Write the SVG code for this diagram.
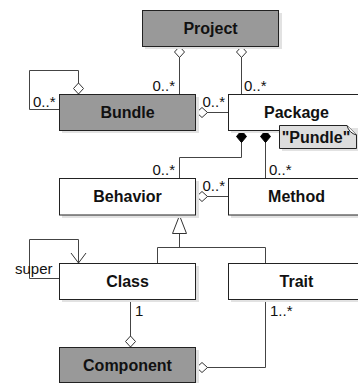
<svg xmlns="http://www.w3.org/2000/svg" width="358" height="383" viewBox="0 0 358 383">
<style>
.box{stroke:#222;stroke-width:1}
.dark{fill:#999}
.light{fill:#fff}
.shadow{fill:#e2e2e2}
.name{font-family:"Liberation Sans",Arial,sans-serif;font-weight:bold;font-size:16px;fill:#111;text-anchor:middle}
.lbl{font-family:"Liberation Sans",Arial,sans-serif;font-size:15px;fill:#111}
.end{text-anchor:end}
.conn{fill:none;stroke:#444;stroke-width:1}
</style>
<defs>
<marker id="agg" viewBox="0 -6 12 12" markerWidth="12" markerHeight="12" refX="0" refY="0" orient="auto" markerUnits="userSpaceOnUse" overflow="visible">
<path d="M0,0 L5.5,-5 L11,0 L5.5,5 Z" fill="#fff" stroke="#333" stroke-width="1"/>
</marker>
<marker id="comp" viewBox="0 -6 12 12" markerWidth="12" markerHeight="12" refX="0" refY="0" orient="auto" markerUnits="userSpaceOnUse" overflow="visible">
<path d="M0,0 L6,-5 L12,0 L6,5 Z" fill="#000" stroke="#000" stroke-width="1"/>
</marker>
<marker id="gen" viewBox="0 -8 18 16" markerWidth="18" markerHeight="16" refX="0" refY="0" orient="auto" markerUnits="userSpaceOnUse" overflow="visible">
<path d="M0,0 L18,-7 L18,7 Z" fill="#fff" stroke="#333" stroke-width="1"/>
</marker>
<marker id="open" viewBox="-12 -8 12 16" markerWidth="12" markerHeight="16" refX="0" refY="0" orient="auto" markerUnits="userSpaceOnUse" overflow="visible">
<path d="M-10,-7.5 L0,0 L-10,7.5" fill="none" stroke="#333" stroke-width="1"/>
</marker>
</defs>

<g id="connectors">
<path class="conn" d="M179.5,46.5 V94" marker-start="url(#agg)"/>
<path class="conn" d="M241.5,46.5 V94" marker-start="url(#agg)"/>
<path class="conn" d="M78.5,94 V70.5 H29.5 V109.5 H59" marker-start="url(#agg)"/>
<path class="conn" d="M196.5,112.5 H228" marker-start="url(#agg)"/>
<path class="conn" d="M241.5,130.5 V157.5 H179.5 V178" marker-start="url(#comp)"/>
<path class="conn" d="M265.5,130.5 V178" marker-start="url(#comp)"/>
<path class="conn" d="M196.5,196.5 H228" marker-start="url(#agg)"/>
<path class="conn" d="M179.5,215.5 V247.5" marker-start="url(#gen)"/>
<path class="conn" d="M157.5,263 V247.5 H265.5 V263"/>
<path class="conn" d="M59,278.5 H29.5 V239.5 H78.5 V263" marker-end="url(#open)"/>
<path class="conn" d="M130.5,347 V299.5" marker-start="url(#agg)"/>
<path class="conn" d="M196.5,367.5 H265.5 V299.5" marker-start="url(#agg)"/>
</g>

<g id="labels">
<text class="lbl end" x="175" y="90.5">0..*</text>
<text class="lbl" x="244" y="90.5">0..*</text>
<text class="lbl" x="33" y="106.5">0..*</text>
<text class="lbl" x="202.5" y="106.5">0..*</text>
<text class="lbl end" x="175" y="175">0..*</text>
<text class="lbl" x="269" y="175">0..*</text>
<text class="lbl" x="202.5" y="190.5">0..*</text>
<text class="lbl" x="15" y="274">super</text>
<text class="lbl" x="135" y="316">1</text>
<text class="lbl" x="270" y="316">1..*</text>
</g>

<g id="project">
<rect class="shadow" x="145" y="13" width="137" height="36"/>
<rect class="box dark" x="142.5" y="10.5" width="136" height="36"/>
<text class="name" x="210.5" y="33.5">Project</text>
</g>
<g id="bundle">
<rect class="shadow" x="62" y="97" width="137" height="36"/>
<rect class="box dark" x="59.5" y="94.5" width="136" height="36"/>
<text class="name" x="127.5" y="118">Bundle</text>
</g>
<g id="package">
<rect class="shadow" x="231" y="97" width="137" height="36"/>
<rect class="box light" x="228.5" y="94.5" width="136" height="36"/>
<text class="name" x="296.5" y="118">Package</text>
</g>
<g id="note">
<rect class="shadow" x="282" y="128" width="78" height="23"/>
<path class="box" d="M279.5,125.5 H347 L356.5,135 V148.5 H279.5 Z" fill="#ddd"/>
<path class="box" d="M347,125.5 Q349,133 356.5,135" fill="#fff"/>
<text class="name" x="316" y="142.5">"Pundle"</text>
</g>
<g id="behavior">
<rect class="shadow" x="62" y="181" width="137" height="37"/>
<rect class="box light" x="59.5" y="178.5" width="136" height="36.5"/>
<text class="name" x="127.5" y="202">Behavior</text>
</g>
<g id="method">
<rect class="shadow" x="231" y="181" width="137" height="37"/>
<rect class="box light" x="228.5" y="178.5" width="136" height="36.5"/>
<text class="name" x="296.5" y="202">Method</text>
</g>
<g id="class">
<rect class="shadow" x="62" y="266" width="137" height="36"/>
<rect class="box light" x="59.5" y="263.5" width="136" height="36"/>
<text class="name" x="127.5" y="287">Class</text>
</g>
<g id="trait">
<rect class="shadow" x="231" y="266" width="137" height="36"/>
<rect class="box light" x="228.5" y="263.5" width="136" height="36"/>
<text class="name" x="296.5" y="287">Trait</text>
</g>
<g id="component">
<rect class="shadow" x="62" y="350" width="137" height="36"/>
<rect class="box dark" x="59.5" y="347.5" width="136" height="35"/>
<text class="name" x="127.5" y="371">Component</text>
</g>
</svg>
